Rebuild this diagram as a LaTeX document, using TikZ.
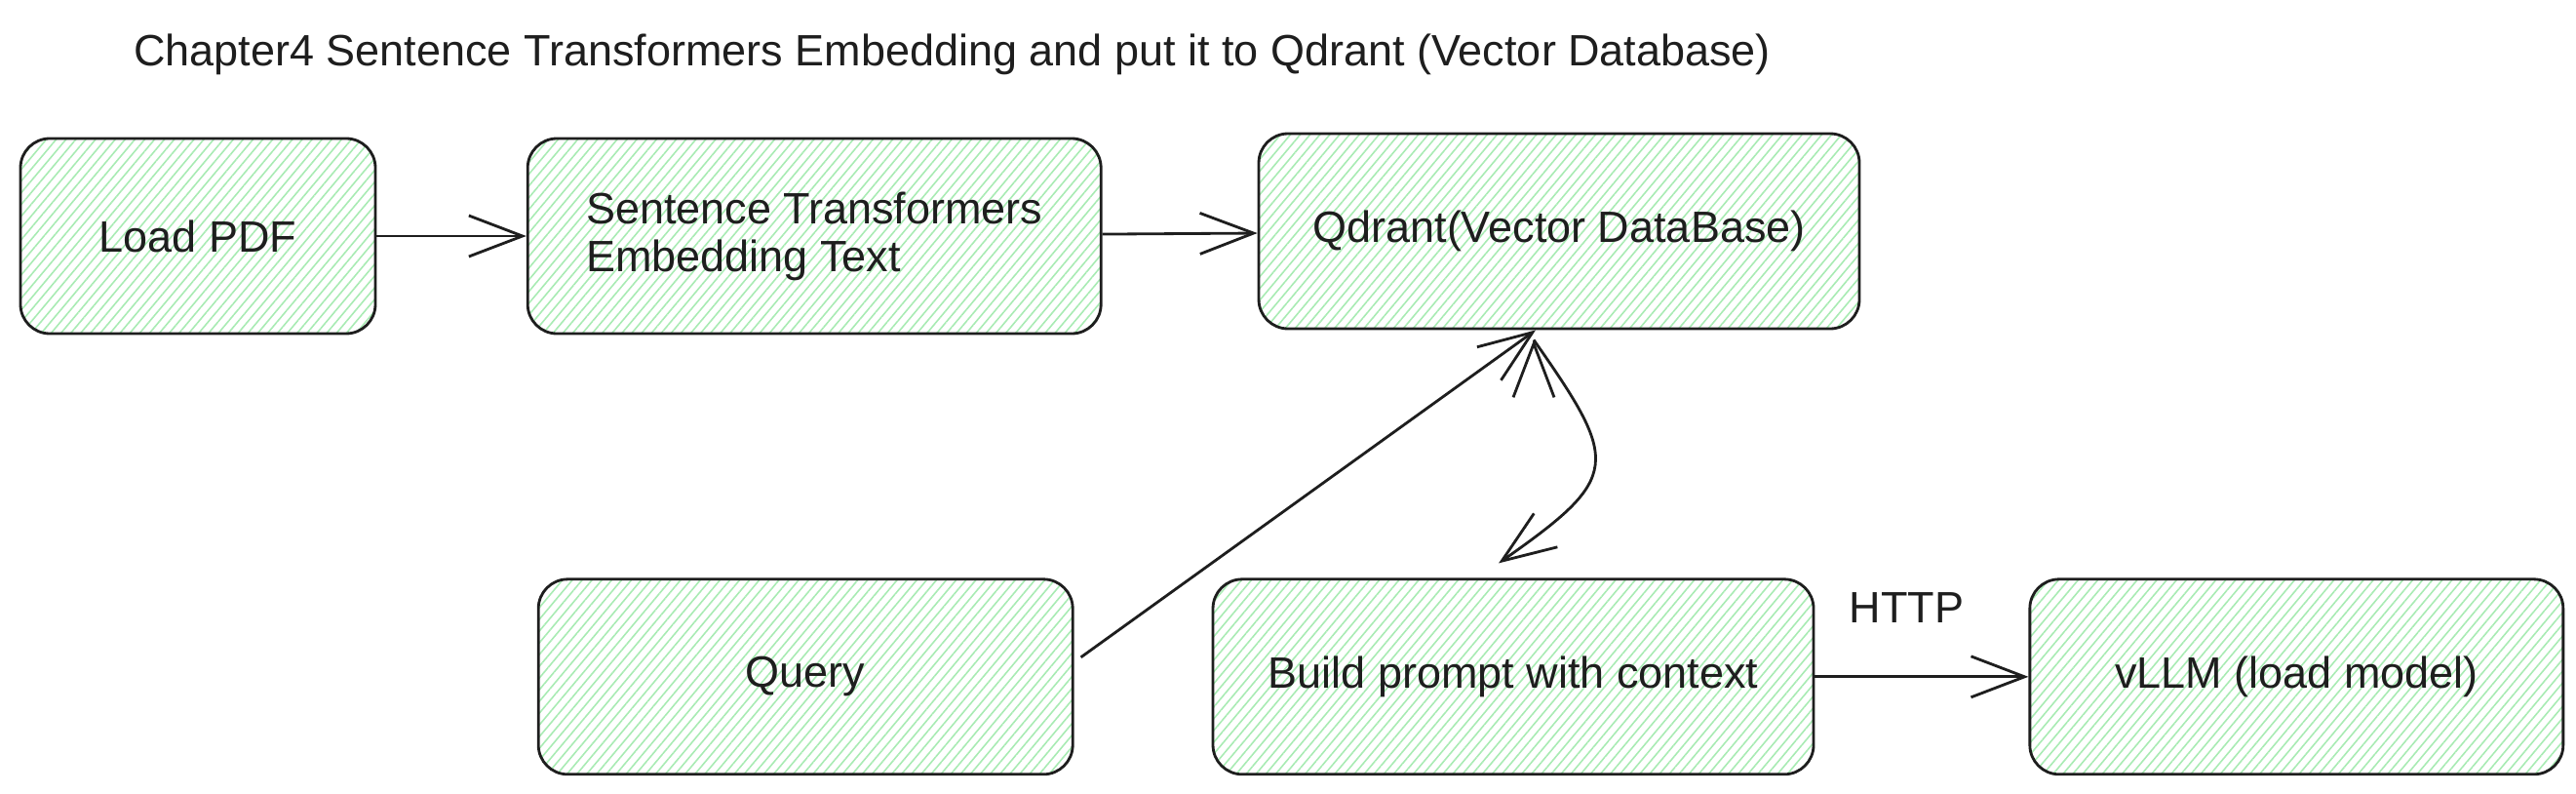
\documentclass[tikz,border=0pt]{standalone}
\usepackage{fontspec}
\setmainfont{Liberation Sans}
\usetikzlibrary{positioning, arrows.meta, patterns.meta}
\definecolor{ink}{HTML}{1E1E1E}
\definecolor{hatch}{HTML}{A8EBB3}
\tikzset{->, % makes the edges directed
>={Straight Barb[length=5.5mm,width=4.2mm]}, % open arrow heads
node distance=1.5cm, % default gap between boxes, overridden below
every node/.style={text=ink, font=\fontsize{12.8}{13.9}\selectfont}, % text of every node
block/.style={draw=ink, line width=0.8pt, rounded corners=0.3cm, minimum height=2cm,
  pattern={Lines[angle=50,distance=2.2pt,line width=0.45pt]}, pattern color=hatch, align=left}, % hatched boxes
link/.style={draw=ink, line width=0.8pt}, % the connectors
}

\begin{document}
\begin{tikzpicture}
\useasboundingbox (0,0) rectangle (26.42,8.13);
\node[anchor=base west] (title) at (1.25,7.46) {Chapter4 Sentence Transformers Embedding and put it to Qdrant (Vector Database)};

\node[block, minimum width=3.64cm] (load) at (2.03,5.71) {Load PDF};
\node[block, minimum width=5.88cm, right=1.54cm of load] (embed) {Sentence Transformers\\Embedding Text};
\node[block, minimum width=6.16cm, right=1.59cm of embed, yshift=0.05cm] (qdrant) {Qdrant(Vector DataBase)};
\node[block, minimum width=5.48cm, below=2.49cm of embed, xshift=-0.09cm] (query) {Query};
\node[block, minimum width=6.16cm, right=1.41cm of query] (build) {Build prompt with context};
\node[block, minimum width=5.47cm, right=2.19cm of build] (vllm) {vLLM (load model)};

\draw[link]
(load) edge (embed)
(embed) edge (qdrant)
([xshift=0.07cm,yshift=0.2cm]query.east) edge ([xshift=-0.24cm]qdrant.south)
([xshift=-0.26cm,yshift=-0.1cm]qdrant.south) edge[out=-55, in=35, looseness=1.7] ([xshift=-0.15cm,yshift=0.15cm]build.north)
(build) edge node[above=0.42cm, pos=0.43] {HTTP} (vllm);

\end{tikzpicture}
\end{document}
